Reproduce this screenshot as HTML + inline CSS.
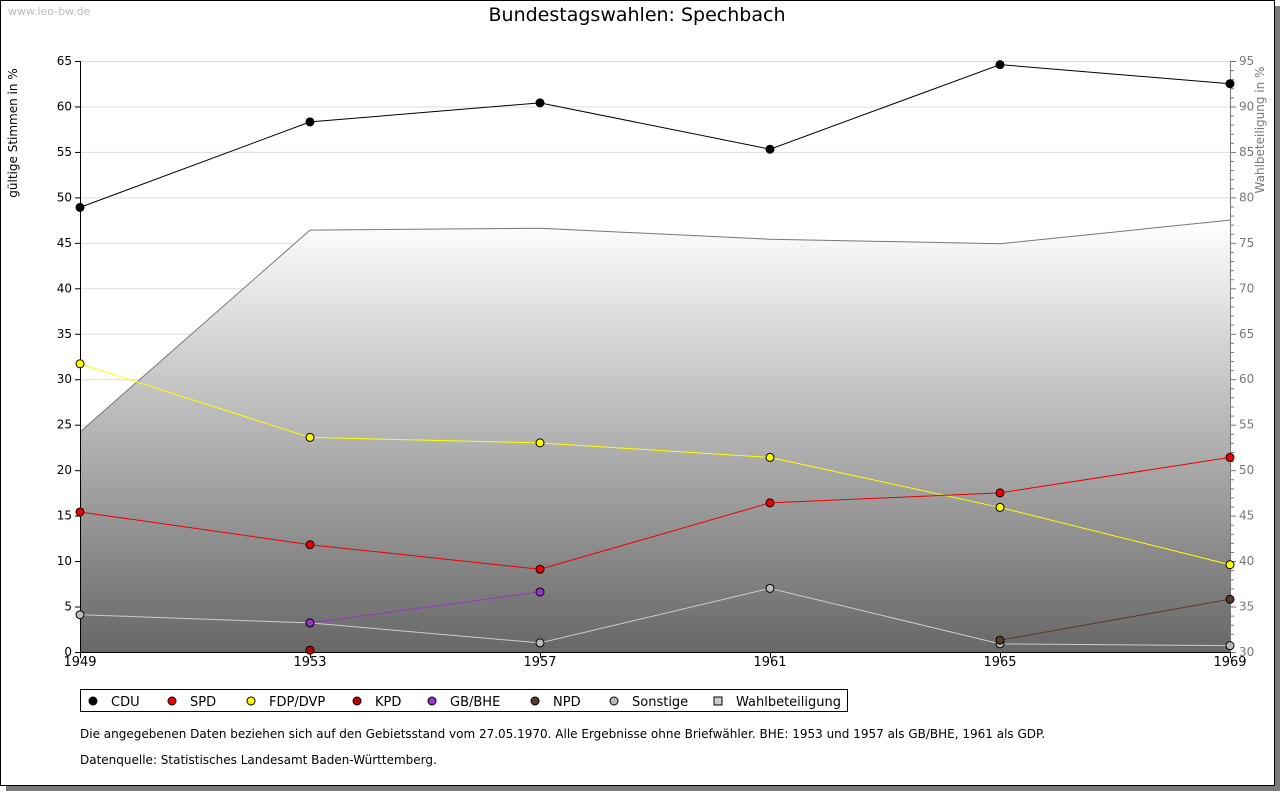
<!DOCTYPE html>
<html><head><meta charset="utf-8"><style>
body{margin:0;background:#fff;width:1280px;height:791px;overflow:hidden;font-family:"DejaVu Sans","Liberation Sans",sans-serif}
svg text{font-family:"DejaVu Sans","Liberation Sans",sans-serif}
</style></head><body>
<svg id="c" width="1280" height="791" xmlns="http://www.w3.org/2000/svg">
<defs>
<linearGradient id="g" x1="0" y1="0" x2="0" y2="1">
<stop offset="0" stop-color="#ffffff"/><stop offset="1" stop-color="#676767"/>
</linearGradient>
</defs>
<rect x="6" y="6" width="1274" height="785" fill="#7a7a7a"/>
<rect x="0.5" y="0.5" width="1274" height="785" fill="#fff" stroke="#000"/>
<text x="8" y="15" font-size="11" fill="#bbb">www.leo-bw.de</text>
<text x="637" y="21" font-size="19" text-anchor="middle" fill="#000">Bundestagswahlen: Spechbach</text>
<text transform="translate(17,133) rotate(-90)" font-size="12" text-anchor="middle">gültige Stimmen in %</text>
<text transform="translate(1264,130) rotate(-90)" font-size="12" text-anchor="middle" fill="#777">Wahlbeteiligung in %</text>
<g id="plot"></g>
<rect x="80.5" y="689.5" width="767" height="22" fill="#fff" stroke="#000"/>
<g id="leg"></g>
<text x="80" y="738" font-size="12">Die angegebenen Daten beziehen sich auf den Gebietsstand vom 27.05.1970. Alle Ergebnisse ohne Briefwähler. BHE: 1953 und 1957 als GB/BHE, 1961 als GDP.</text>
<text x="80" y="764" font-size="12">Datenquelle: Statistisches Landesamt Baden-Württemberg.</text>
</svg>
<script>
const years=[1949,1953,1957,1961,1965,1969];
const cdu=[48.9,58.3,60.4,55.3,64.6,62.5];
const spd=[15.4,11.8,9.1,16.4,17.5,21.4];
const fdp=[31.7,23.6,23.0,21.4,15.9,9.6];
const kpd=[null,0.2,null,null,null,null];
const bhe=[null,3.2,6.6,null,null,null];
const npd=[null,null,null,null,1.3,5.8];
const sonst=[4.1,3.2,1.0,7.0,0.9,0.7];
const turnout=[54.2,76.4,76.6,75.4,74.9,77.5];
const yTicks=[0,5,10,15,20,25,30,35,40,45,50,55,60,65];
const y2Ticks=[30,35,40,45,50,55,60,65,70,75,80,85,90,95];
const NS="http://www.w3.org/2000/svg";
const X0=80,X1=1230,Y0=652,Y1=61;
const xs=i=>X0+(X1-X0)*i/(years.length-1);
const ys=v=>Y0-(Y0-Y1)*v/65;
const ys2=v=>Y0-(Y0-Y1)*(v-30)/65;
const plot=document.getElementById('plot');
function mk(t,a,p){const e=document.createElementNS(NS,t);for(const k in a)e.setAttribute(k,a[k]);(p||plot).appendChild(e);return e;}
yTicks.forEach(v=>{if(v>0){const l=mk('line',{x1:X0,x2:X1,y1:ys(v)+.5,y2:ys(v)+.5,stroke:'#ddd'});

}});
let d='M'+X0+','+Y0;turnout.forEach((v,i)=>d+=' L'+xs(i)+','+ys2(v));d+=' L'+X1+','+Y0+' Z';
const area=mk('path',{d:d,fill:'url(#g)'});


let d2='';turnout.forEach((v,i)=>d2+=(i?' L':'M')+xs(i)+','+ys2(v));
const tl=mk('path',{d:d2,fill:'none',stroke:'#777'});


mk('line',{x1:X0+.5,x2:X0+.5,y1:Y1,y2:Y0,stroke:'#000'});
mk('line',{x1:X1+.5,x2:X1+.5,y1:Y1,y2:Y0,stroke:'#777'});
mk('line',{x1:X0,x2:X1,y1:Y0+.5,y2:Y0+.5,stroke:'#000'});
yTicks.forEach(v=>{mk('line',{x1:X0-5,x2:X0,y1:ys(v)+.5,y2:ys(v)+.5,stroke:'#000'});
const t=mk('text',{x:X0-8,y:ys(v)+4,'font-size':12,'text-anchor':'end'});t.textContent=v;

});
for(let v=30;v<=95;v++){mk('line',{x1:X1,x2:X1+(v%5?4:6),y1:ys2(v)+.5,y2:ys2(v)+.5,stroke:'#777'});}
y2Ticks.forEach(v=>{const t=mk('text',{x:X1+9,y:ys2(v)+4,'font-size':12,fill:'#777'});t.textContent=v;

});
years.forEach((y,i)=>{mk('line',{x1:xs(i)+.5,x2:xs(i)+.5,y1:Y0,y2:Y0+6,stroke:'#000'});
const t=mk('text',{x:xs(i),y:Y0+14,'font-size':13,'text-anchor':'middle'});t.textContent=y;

});
const series=[['cdu',cdu,'#000','#000'],['spd',spd,'#e00','#e00'],['fdp',fdp,'#ff0','#ff0'],['kpd',kpd,'#c00','#b00'],['bhe',bhe,'#93c','#93c'],['npd',npd,'#5a3a2a','#5a3a2a'],['sonstige',sonst,'#ccc','#bbb']];
[6,5,4,3,2,1,0].forEach(si=>{const [n,vals,lc,fc]=series[si];
let p='',started=false;vals.forEach((v,i)=>{if(v==null)return;p+=(started?' L':'M')+xs(i)+','+ys(v);started=true;});
const l=mk('path',{d:p,fill:'none',stroke:lc});


vals.forEach((v,i)=>{if(v==null)return;const c=mk('circle',{cx:xs(i),cy:ys(v),r:4,fill:fc,stroke:'#000','stroke-width':1});

});});
const leg=document.getElementById('leg');
const items=[['CDU','#000',93],['SPD','#e00',172],['FDP/DVP','#ff0',251],['KPD','#b00',357],['GB/BHE','#93c',432],['NPD','#5a3a2a',535],['Sonstige','#bbb',614],['Wahlbeteiligung','#ccc',718]];
items.forEach(([lab,col,x],k)=>{
const s=k==7?mk('rect',{x:x-4,y:697,width:8,height:8,fill:col,stroke:'#000'},leg):mk('circle',{cx:x,cy:701,r:4,fill:col,stroke:'#000'},leg);


const t=mk('text',{x:x+18,y:706,'font-size':13},leg);t.textContent=lab;

});
</script>
</body></html>
